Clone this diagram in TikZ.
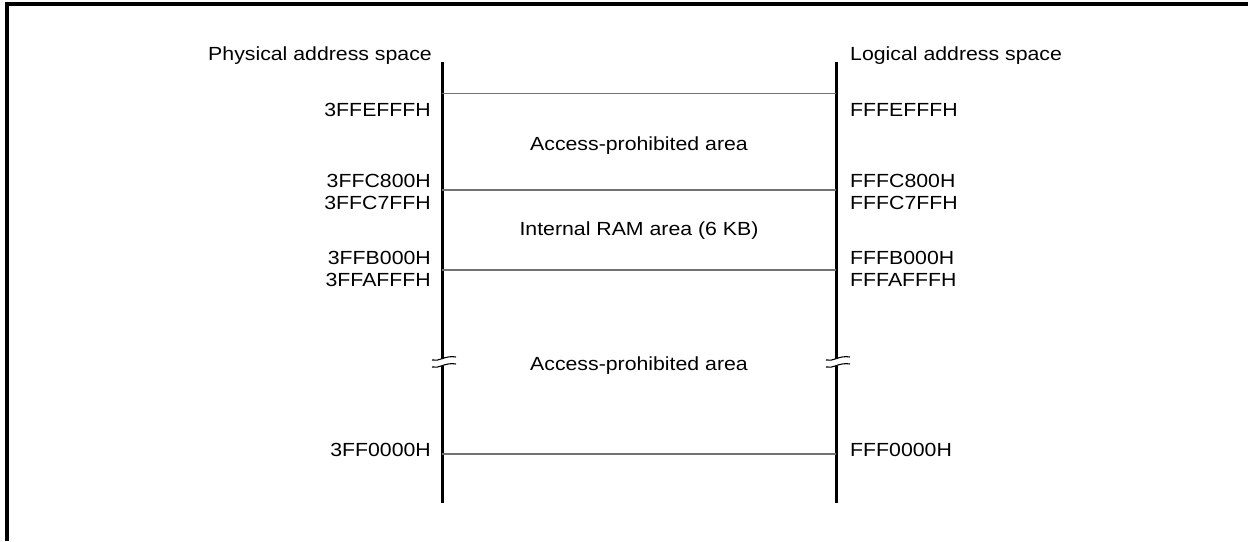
\documentclass[tikz,border=0pt]{standalone}
\usepackage{fontspec}
\setmainfont[FakeStretch=1.12]{Liberation Sans}
\usepackage{tikz}
\usetikzlibrary{positioning}
\usetikzlibrary{calc}
\tikzstyle{frameline}=[draw,line width=3.2pt]
\tikzstyle{addrline}=[draw,line width=3pt]
\tikzstyle{boundary}=[draw=black!55,line width=1.3pt]
\tikzstyle{breakmark}=[draw,line width=1.1pt]
\tikzstyle{addr}=[font=\fontsize{19}{22}\selectfont,inner sep=0pt]

\begin{document}
\begin{tikzpicture}[x=1pt,y=-1pt]
   \useasboundingbox (0,0) rectangle (1248,541);

   % frame
   \coordinate (fbl) at (7,541);
   \coordinate (ftl) at (7,4);
   \coordinate (ftr) at (1248,4);
   \draw[frameline] (fbl) -- (ftl) -- (ftr);

   \def\xl{442};
   \def\xr{836};

   % the two address axes, broken in the middle
   \foreach \x/\name in {\xl/phys, \xr/logi} {
      \coordinate (\name top) at (\x,62);
      \coordinate (\name gapA) at (\x,359);
      \coordinate (\name gapB) at (\x,366);
      \coordinate (\name bot) at (\x,503);
      \path[addrline] (\name top) -- (\name gapA);
      \path[addrline] (\name gapB) -- (\name bot);
      \draw[breakmark] ($(\name gapA)+(-10,1)$) .. controls ($(\name gapA)+(-3,3)$) and ($(\name gapA)+(3,-4)$) .. ($(\name gapA)+(14,-2)$);
      \draw[breakmark] ($(\name gapB)+(-10,1)$) .. controls ($(\name gapB)+(-3,3)$) and ($(\name gapB)+(3,-4)$) .. ($(\name gapB)+(14,-2)$);
   }

   % area boundaries
   \foreach \y/\name in {93.5/b1, 190/b2, 270/b3, 454/b4} {
      \coordinate (L\name) at (\xl,\y);
      \coordinate (R\name) at (\xr,\y);
      \path[boundary] (L\name) -- (R\name);
   }

   % titles
   \node[addr,anchor=base east] (physt) at (432,60) {Physical address space};
   \node[addr,anchor=base west] (logit) at (850,60) {Logical address space};

   % addresses
   \foreach \y/\name/\phys/\logi in {116/a1/3FFEFFFH/FFFEFFFH, 187/a2/3FFC800H/FFFC800H,
         209/a3/3FFC7FFH/FFFC7FFH, 264.5/a4/3FFB000H/FFFB000H,
         286/a5/3FFAFFFH/FFFAFFFH, 456/a6/3FF0000H/FFF0000H} {
      \node[addr,anchor=base east] (p\name) at (431,\y) {\phys};
      \node[addr,anchor=base west] (l\name) at (850,\y) {\logi};
   }

   % areas
   \node[addr,anchor=base] (area1) at (639,150) {Access-prohibited area};
   \node[addr,anchor=base] (area2) at (639,235) {Internal RAM area (6 KB)};
   \node[addr,anchor=base] (area3) at (639,370) {Access-prohibited area};

\end{tikzpicture}
\end{document}
